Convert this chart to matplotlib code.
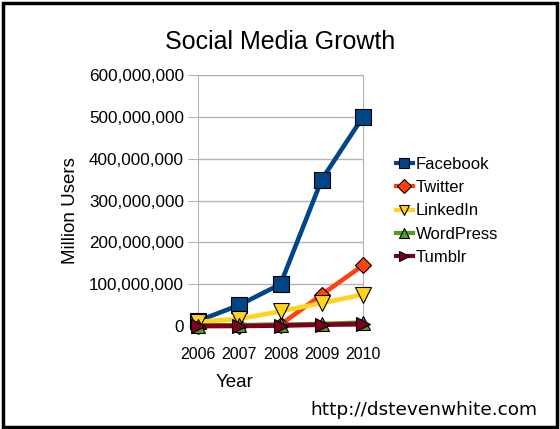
import matplotlib.pyplot as plt
from matplotlib.patches import Rectangle
from matplotlib.ticker import FuncFormatter

plt.rcParams['font.family'] = ['Liberation Sans', 'DejaVu Sans']

years = [2006, 2007, 2008, 2009, 2010]
facebook = [12e6, 50e6, 100e6, 350e6, 500e6]
twitter = [0, 1e6, 3e6, 75e6, 145e6]
linkedin = [10e6, 17e6, 35e6, 55e6, 75e6]
wordpress = [1e6, 2e6, 3e6, 5e6, 8e6]
tumblr = [0, 0, 1e6, 3e6, 5e6]

series = [
    ("Facebook", facebook, "#004586", "s", 12),
    ("Twitter", twitter, "#ff420e", "D", 8),
    ("LinkedIn", linkedin, "#ffd320", "v", 12),
    ("WordPress", wordpress, "#579d1c", "^", 10),
    ("Tumblr", tumblr, "#7e0021", ">", 10),
]

fig = plt.figure(figsize=(5.6, 4.29), dpi=100)
ax = fig.add_axes([198 / 560, 1 - 326 / 429, 165 / 560, 251 / 429])

for name, vals, color, marker, ms in series:
    ax.plot(years, vals, color=color, lw=3.3, marker=marker, markersize=ms,
            markeredgecolor="black", markeredgewidth=0.8, label=name,
            clip_on=False, zorder=3)

ax.set_xlim(2006, 2010)
ax.set_ylim(0, 600e6)
ax.set_xticks(years)
ax.set_yticks(range(0, 600000001, 100000000))
ax.yaxis.set_major_formatter(FuncFormatter(lambda v, p: f"{int(v):,}"))
ax.grid(axis="y", color="#b3b3b3", lw=1)
for s in ax.spines.values():
    s.set_color("#b3b3b3")
ax.tick_params(axis="y", length=7, color="#b3b3b3", labelsize=12.3, pad=3)
ax.tick_params(axis="x", length=0, labelsize=11.5, pad=15)
ax.set_axisbelow(True)

ax.set_ylabel("Million Users", fontsize=13.5)
ax.yaxis.set_label_coords(-119 / 165, 0.46)
ax.set_xlabel("Year", fontsize=13.5)
ax.xaxis.set_label_coords(0.22, -48 / 251)
fig.text(0.5, 1 - 42 / 429, "Social Media Growth", ha="center", va="center",
         fontsize=18)

leg = fig.legend(*ax.get_legend_handles_labels(), loc="center left",
                 bbox_to_anchor=(396 / 560, 1 - 211 / 429), frameon=False,
                 fontsize=12, handlelength=1.0, handletextpad=0.2,
                 labelspacing=0.5, borderpad=0, borderaxespad=0)
for h in leg.legend_handles:
    h.set_markersize(7)
    h.set_linewidth(3)

fig.text(538 / 560, 1 - 410 / 429, "http://dstevenwhite.com", ha="right",
         va="center", fontsize=13.3, family="DejaVu Sans")

fig.patches.append(Rectangle((3 / 560, 2 / 429), 554 / 560, 424 / 429,
                             transform=fig.transFigure, fill=False,
                             edgecolor="black", lw=2.5))

fig.savefig("out.png", dpi=100)
